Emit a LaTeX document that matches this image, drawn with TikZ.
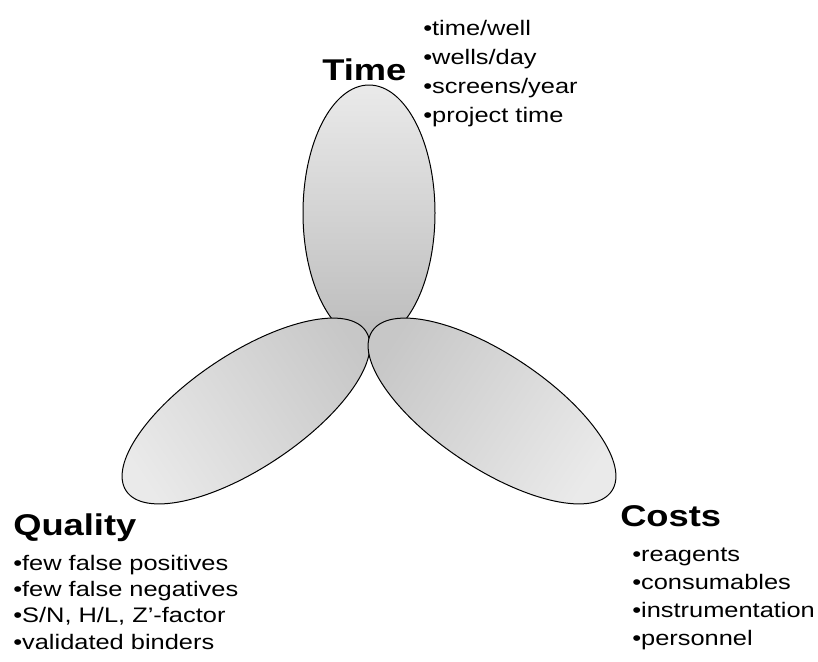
\documentclass[tikz,border=0pt]{standalone}
\usepackage{fontspec}
\setmainfont[FakeStretch=1.21]{Liberation Sans}
\definecolor{petallight}{RGB}{234,234,234}
\definecolor{petaldark}{RGB}{188,188,188}

\begin{document}
\begin{tikzpicture}[x=0.75pt, y=-0.75pt,
    petal/.style={draw=black, line width=0.75pt, top color=petallight, bottom color=petaldark},
    title/.style={anchor=base west, inner sep=0pt, font=\fontsize{22.5}{27}\selectfont\bfseries},
    points/.style={anchor=base west, inner sep=0pt, align=left, font=\fontsize{15.75}{#1}\selectfont}]
        \useasboundingbox (0,0) rectangle (818,661);

        % the three petals
        \coordinate (ctime) at (369,213);
        \coordinate (cquality) at (246,411);
        \coordinate (ccosts) at (492,411);
        \shade[petal] (ctime) ellipse [x radius=66, y radius=128];
        \shade[petal, bottom color=petaldark!75!petallight, shading angle=123.7, rotate around={123.7:(cquality)}] (cquality) ellipse [x radius=57, y radius=144];
        \shade[petal, bottom color=petaldark!75!petallight, shading angle=-123.7, rotate around={-123.7:(ccosts)}] (ccosts) ellipse [x radius=57, y radius=144];

        % labels (multi-line nodes sit on their last baseline)
        \node (time) [title] at (322,80) {Time};
        \node (timepts) [points=21.75pt] at (423,122) {•time/well\\•wells/day\\•screens/year\\•project time};
        \node (quality) [title] at (13,535) {Quality};
        \node (qualitypts) [points=19.7pt] at (13,649) {•few false positives\\•few false negatives\\•S/N, H/L, Z’-factor\\•validated binders};
        \node (costs) [title] at (620,526) {Costs};
        \node (costspts) [points=20.8pt] at (632,645) {•reagents\\•consumables\\•instrumentation\\•personnel};
    \end{tikzpicture}
\end{document}
